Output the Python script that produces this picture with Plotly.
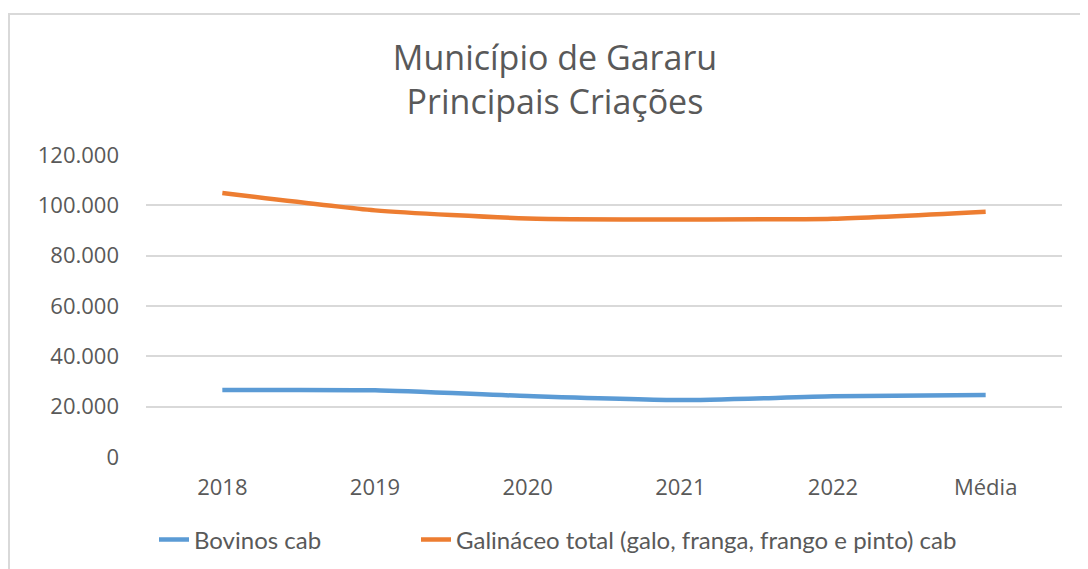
import plotly.graph_objects as go

categories = ["2018", "2019", "2020", "2021", "2022", "Média"]
bovinos = [26600, 26500, 24200, 22600, 24100, 24600]
galinaceo = [104900, 98000, 94800, 94400, 94700, 97500]
y_ticks = [0, 20000, 40000, 60000, 80000, 100000, 120000]

fig = go.Figure()
fig.add_trace(go.Scatter(
    x=categories, y=bovinos, mode="lines", name="Bovinos cab",
    line=dict(color="#5B9BD5", width=4.5, shape="spline", smoothing=0.6),
    legend="legend",
))
fig.add_trace(go.Scatter(
    x=categories, y=galinaceo, mode="lines",
    name="Galináceo total (galo, franga, frango e pinto) cab",
    line=dict(color="#ED7D31", width=4.5, shape="spline", smoothing=0.6),
    legend="legend2",
))

# page has an 8px body margin; work in page coords and convert
OFF = 8
W, H = 1088 - OFF, 569 - OFF
L = 146 - OFF
R = W - (1062 - OFF)
T = 155 - OFF
B = H - (457 - OFF)
pw, ph = W - L - R, H - T - B

def px(x):
    return (x - OFF - L) / pw

def py(y):
    return (H - B - (y - OFF)) / ph

fig.add_shape(type="rect", xref="paper", yref="paper",
              x0=px(9), x1=px(1100), y0=py(580), y1=py(14),
              line=dict(color="#D9D9D9", width=2), fillcolor="rgba(0,0,0,0)", layer="below")

legend_font = dict(family="Lato", size=24, color="#595959")

fig.update_layout(
    width=W, height=H,
    margin=dict(l=L, r=R, t=T, b=B, autoexpand=False),
    paper_bgcolor="white", plot_bgcolor="white",
    separators=",.",
    title=dict(
        text="Município de Gararu<br>Principais Criações",
        x=(555 - OFF) / W, xref="container", xanchor="center",
        y=1 - (70 - OFF) / H, yref="container", yanchor="middle",
        font=dict(family="Open Sans", size=34, color="#595959"),
    ),
    xaxis=dict(
        type="category", categoryorder="array", categoryarray=categories,
        showgrid=False, showline=False, zeroline=False, ticks="",
        ticklabelstandoff=15,
        tickfont=dict(family="Open Sans", size=22, color="#595959"),
        range=[-0.5, 5.5],
    ),
    yaxis=dict(
        range=[0, 120000], tickvals=y_ticks, tickformat=",d",
        showgrid=True, gridcolor="#D9D9D9", gridwidth=1.5,
        zeroline=False, showline=False, ticks="",
        ticklabelstandoff=26,
        tickfont=dict(family="Open Sans", size=22, color="#595959"),
    ),
    legend=dict(
        orientation="h", x=px(154), xanchor="left", y=py(540), yanchor="middle",
        font=legend_font, bgcolor="rgba(0,0,0,0)",
    ),
    legend2=dict(
        orientation="h", x=px(416), xanchor="left", y=py(540), yanchor="middle",
        font=legend_font, bgcolor="rgba(0,0,0,0)",
    ),
    showlegend=True,
)

fig.write_html("out.html")
